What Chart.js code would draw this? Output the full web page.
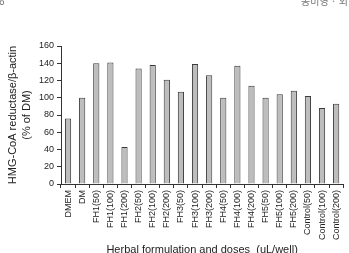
<!DOCTYPE html>
<html>
<head>
<meta charset="utf-8">
<script src="https://cdn.jsdelivr.net/npm/chart.js@4"></script>
<style>
  html, body { margin: 0; padding: 0; background: #fff; overflow: hidden; }
  #wrap { position: relative; width: 349px; height: 253px; overflow: hidden; }
  .hdr { position: absolute; font-family: "Noto Sans CJK KR", sans-serif; color: #777; font-size: 10px; line-height: 10px; white-space: nowrap; writing-mode: horizontal-tb; width: max-content; }
</style>
</head>
<body>
<div id="wrap">
  <canvas id="c" width="349" height="253"></canvas>
  <div class="hdr" style="left:-1px; top:-4px;">6</div>
  <div class="hdr" style="left:301px; top:-4px;">송미영 · 외</div>
</div>
<script>
const categories = ['DMEM', 'DM', 'FH1(50)', 'FH1(100)', 'FH1(200)', 'FH2(50)', 'FH2(100)', 'FH2(200)',
  'FH3(50)', 'FH3(100)', 'FH3(200)', 'FH4(50)', 'FH4(100)', 'FH4(200)', 'FH5(50)', 'FH5(100)',
  'FH5(200)', 'Control(50)', 'Control(100)', 'Control(200)'];
const values = [76, 100, 140, 141, 43, 134, 138, 121, 107, 139, 126, 100, 137, 114, 100, 104, 108, 102, 88, 93];
const yTicks = [0, 20, 40, 60, 80, 100, 120, 140, 160];

const font = { family: 'Liberation Sans, Arial, sans-serif', size: 9 };

new Chart(document.getElementById('c'), {
  type: 'bar',
  data: {
    labels: categories,
    datasets: [{
      data: values,
      backgroundColor: '#bdbdbd',
      borderColor: '#3a3a3a',
      borderWidth: 1,
      barPercentage: 0.44,
      categoryPercentage: 1
    }]
  },
  options: {
    responsive: false,
    animation: false,
    layout: { padding: { top: 46, right: 2, left: 6, bottom: 0 } },
    plugins: { legend: { display: false }, tooltip: { enabled: false } },
    scales: {
      x: {
        grid: { drawOnChartArea: false, color: '#333', tickLength: 4, offset: true },
        border: { color: '#333' },
        ticks: { font: font, color: '#222', maxRotation: 90, minRotation: 90, autoSkip: false, padding: 2 },
        title: { display: true, text: 'Herbal formulation and doses  (uL/well)', font: { family: font.family, size: 11 }, color: '#222', padding: { top: 4, bottom: -4 } },
        afterFit: s => { s.height = 69; }
      },
      y: {
        min: 0, max: 160,
        afterBuildTicks: s => { s.ticks = yTicks.map(v => ({ value: v })); },
        grid: { drawOnChartArea: false, color: '#333', tickLength: 4 },
        border: { color: '#333' },
        ticks: { font: font, color: '#222', padding: 3 },
        title: { display: true, text: ['HMG-CoA reductase/β-actin', '(% of DM)'], font: { family: font.family, size: 11, lineHeight: 1.25 }, color: '#222', padding: { top: 0, bottom: 4 } },
        afterFit: s => { s.width = 55; }
      }
    }
  }
});
</script>
</body>
</html>
